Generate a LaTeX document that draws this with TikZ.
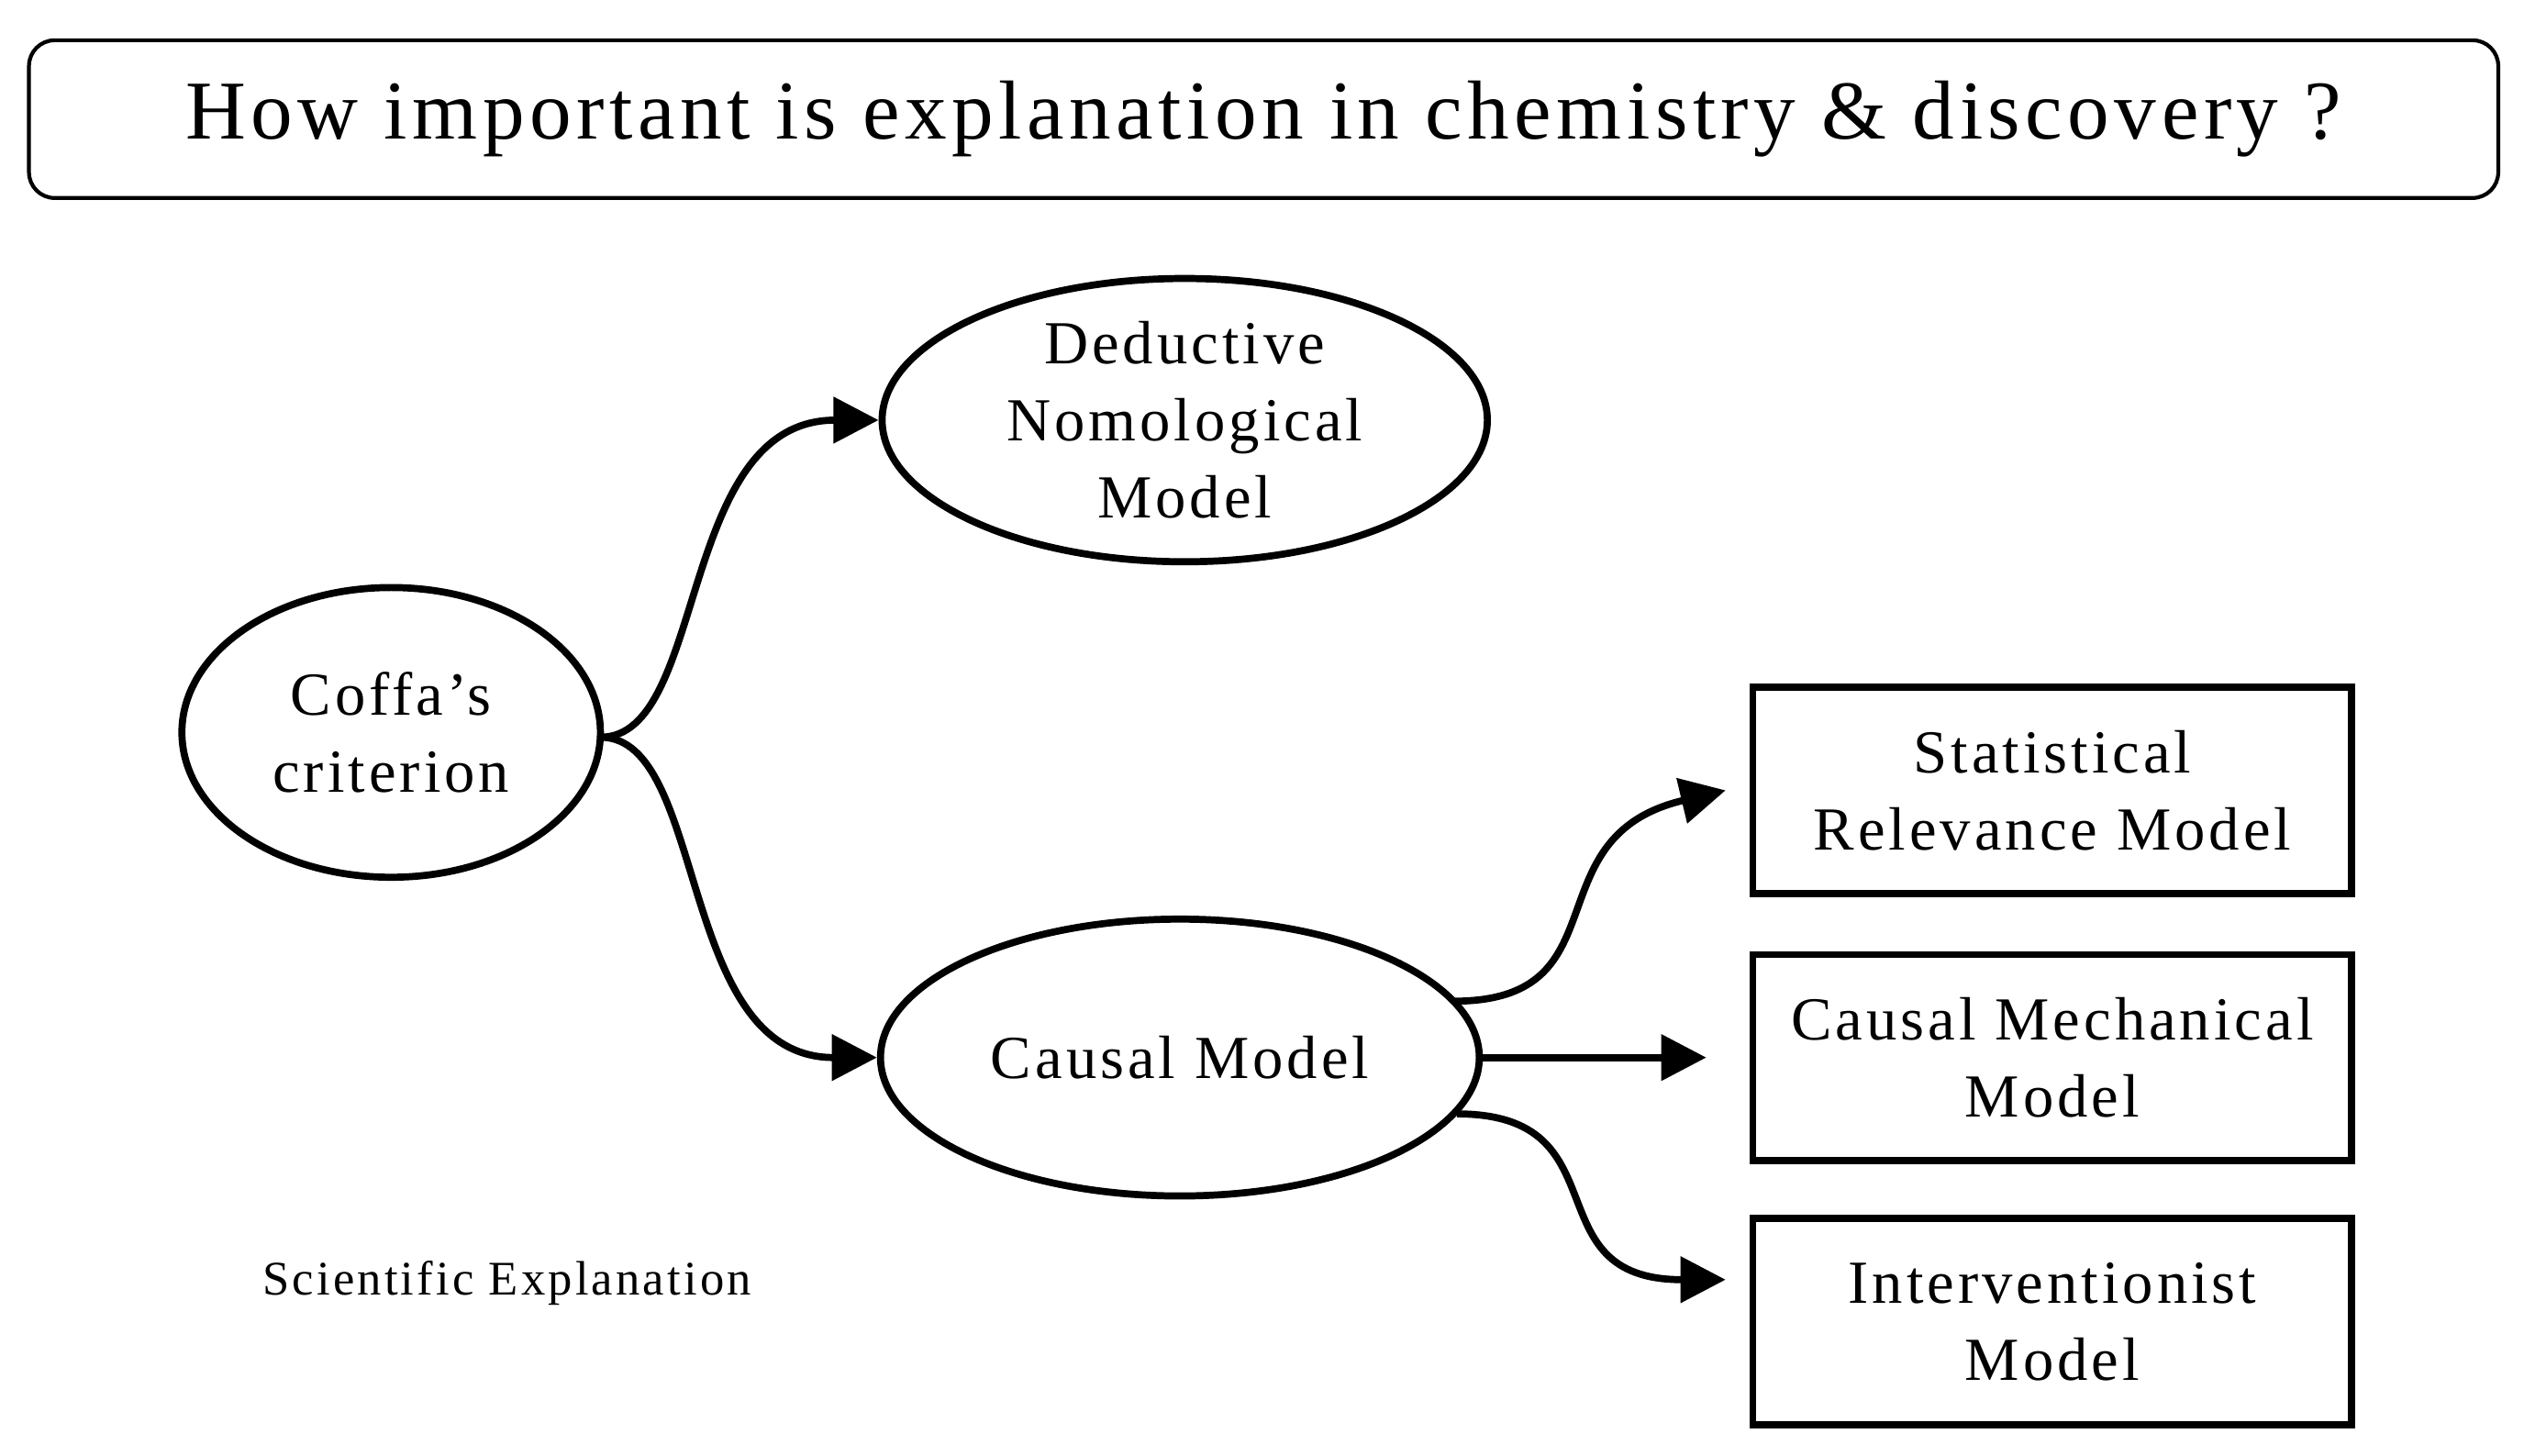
\documentclass[tikz,border=0pt]{standalone}
\usepackage{fontspec}
\setmainfont{Liberation Serif}[LetterSpace=6]
\usetikzlibrary{shapes.geometric,arrows.meta}
\begin{document}
\begin{tikzpicture}[x=0.5pt,y=-0.5pt,
  ln/.style={line width=2.2pt},
  arr/.style={ln,-{Triangle[length=14pt,width=14pt]}},
  ell/.style={ellipse,draw,ln,font=\fontsize{19}{24}\selectfont,align=center,inner sep=0pt},
  box/.style={draw,ln,minimum width=186pt,minimum height=64pt,font=\fontsize{19}{24}\selectfont,align=center,inner sep=0pt}]
\useasboundingbox (0,0) rectangle (1568,904);
\node[draw,line width=1.2pt,rounded corners=8pt,minimum width=767pt,minimum height=49pt,font=\fontsize{26}{30}\selectfont] (title) at (785,74) {How important is explanation in chemistry \& discovery ?};
\node[ell,minimum width=130pt,minimum height=90pt] (cof) at (243,455) {Coffa’s\\criterion};
\node[ell,minimum width=188pt,minimum height=88pt] (dn) at (736,261) {Deductive\\Nomological\\Model};
\node[ell,minimum width=186pt,minimum height=86pt] (cm) at (733,657) {Causal Model};
\node[box] (sr) at (1275,491) {Statistical\\Relevance Model};
\node[box] (cmm) at (1275,657) {Causal Mechanical\\Model};
\node[box] (im) at (1275,821) {Interventionist\\Model};
\node[font=\fontsize{15}{18}\selectfont] (se) at (315,797) {Scientific Explanation};
\coordinate (c0) at (373,458);
\draw[arr] (c0) .. controls (440,458) and (420,261) .. (dn.west);
\draw[arr] (c0) .. controls (440,458) and (420,657) .. (cm.west);
\draw[arr] (903,622) .. controls (1010,622) and (950,520) .. (sr.west -| 1072,520);
\draw[arr] (cm.east) -- (1060,657);
\draw[arr] (905,692) .. controls (1010,692) and (950,795) .. (1072,795);
\end{tikzpicture}
\end{document}
